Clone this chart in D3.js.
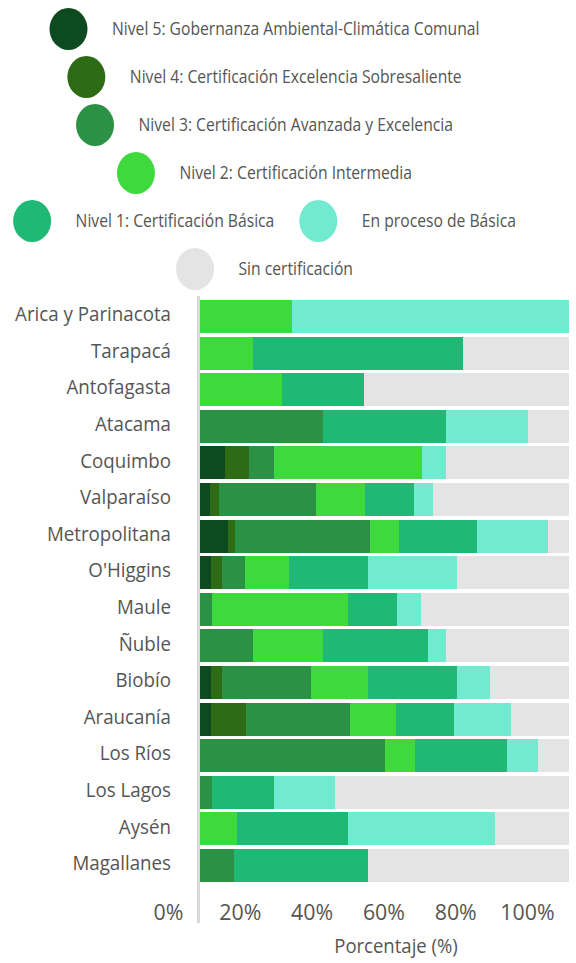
<!DOCTYPE html>
<html><head><meta charset="utf-8">
<script src="https://cdn.jsdelivr.net/npm/d3@7"></script>
<style>body{margin:0;background:#fff}svg{display:block}</style>
</head><body><svg id="c" width="576" height="963"></svg>
<script>
const regions = ["Arica y Parinacota","Tarapacá","Antofagasta","Atacama","Coquimbo","Valparaíso","Metropolitana","O'Higgins","Maule","Ñuble","Biobío","Araucanía","Los Ríos","Los Lagos","Aysén","Magallanes"];
const nivel5  = [0,0,0,0,6.7,2.6,7.7,3.0,0,0,3.0,3.1,0,0,0,0];
const nivel4  = [0,0,0,0,6.7,2.6,1.9,3.0,0,0,3.0,9.4,0,0,0,0];
const nivel3  = [0,0,0,33.3,6.7,26.3,36.5,6.1,3.3,14.3,24.2,28.1,50.0,3.3,0,9.1];
const nivel2  = [25.0,14.3,22.2,0,40.0,13.2,7.7,12.1,36.7,19.0,15.2,12.5,8.3,0,10.0,0];
const nivel1  = [0,57.1,22.2,33.3,0,13.2,21.2,21.2,13.3,28.6,24.2,15.6,25.0,16.7,30.0,36.4];
const proceso = [75.0,0,0,22.2,6.7,5.3,19.2,24.2,6.7,4.8,9.1,15.6,8.3,16.7,40.0,0];
const sinCert = [0,28.6,55.6,11.1,33.3,36.8,5.8,30.3,40.0,33.3,21.2,15.6,8.4,63.3,20.0,54.5];

const seriesKeys = ["n5","n4","n3","n2","n1","proc","sin"];
const seriesLabels = ["Nivel 5: Gobernanza Ambiental-Climática Comunal","Nivel 4: Certificación Excelencia Sobresaliente","Nivel 3: Certificación Avanzada y Excelencia","Nivel 2: Certificación Intermedia","Nivel 1: Certificación Básica","En proceso de Básica","Sin certificación"];
const seriesColors = ["#0e4a1f","#2d6b15","#2b9145","#3dd93d","#1fb874","#72ead0","#e4e4e4"];
const legendRows = [["n5"],["n4"],["n3"],["n2"],["n1","proc"],["sin"]];
const tickValues = [0,20,40,60,80,100];
const axisTitle = "Porcentaje (%)";

const textColor = "#555";
const font = "'Open Sans', 'Noto Sans', sans-serif";
function condense(sel, k){
  sel.each(function(){
    const w = this.getComputedTextLength();
    this.setAttribute("textLength", w*k);
    this.setAttribute("lengthAdjust","spacingAndGlyphs");
  });
}

const dataByKey = {n5:nivel5,n4:nivel4,n3:nivel3,n2:nivel2,n1:nivel1,proc:proceso,sin:sinCert};
const rows = regions.map((r,i)=>{
  const o = {region:r};
  seriesKeys.forEach(k=>o[k]=dataByKey[k][i]);
  return o;
});

const svg = d3.select("#c");
const x = d3.scaleLinear().domain([0,100]).range([200,569]);
const y = d3.scaleBand().domain(regions).range([298.2,883.8]).paddingInner(0.098).paddingOuter(0.049);
const color = d3.scaleOrdinal().domain(seriesKeys).range(seriesColors);
const stacked = d3.stack().keys(seriesKeys)(rows);

// axis line
svg.append("line").attr("x1",198.5).attr("x2",198.5).attr("y1",296).attr("y2",923)
  .attr("stroke","#d9d9d9").attr("stroke-width",3);

svg.append("g").attr("shape-rendering","crispEdges")
  .selectAll("g").data(stacked).join("g").attr("fill",d=>color(d.key))
  .selectAll("rect").data(d=>d).join("rect")
  .attr("x",d=>x(d[0]))
  .attr("width",d=>Math.max(0,x(d[1])-x(d[0])))
  .attr("y",d=>y(d.data.region))
  .attr("height",y.bandwidth());

// region labels
const yAxis = svg.append("g").attr("transform","translate(171,0)")
  .call(d3.axisLeft(y).tickSize(0).tickPadding(0));
yAxis.select(".domain").remove();
yAxis.selectAll("text").attr("font-family",font).attr("font-size",19.5).attr("fill",textColor)
  .attr("dy","0.24em").call(condense,0.96);

// x tick labels
const xt = d3.scaleLinear().domain([0,100]).range([168,527]);
const xAxis = svg.append("g").attr("transform","translate(0,904.5)")
  .call(d3.axisBottom(xt).tickValues(tickValues).tickFormat(d=>d+"%").tickSize(0).tickPadding(0));
xAxis.select(".domain").remove();
xAxis.selectAll("text").attr("font-family",font).attr("font-size",22).attr("fill",textColor).call(condense,0.97);

svg.append("text").attr("x",396).attr("y",953).attr("text-anchor","middle")
  .attr("font-family",font).attr("font-size",19.5).attr("fill",textColor).text(axisTitle).call(condense,0.95);

// legend
const R = 19, RY = 21, gapText = 24.5, gapItem = 25, centerX = 264.5;
const legend = svg.append("g");
legendRows.forEach((keys,ri)=>{
  const cy = 29 + 48*ri;
  const items = keys.map(k=>{
    const g = legend.append("g");
    g.append("ellipse").attr("rx",R).attr("ry",RY).attr("cy",cy).attr("fill",color(k));
    const t = g.append("text").attr("y",cy).attr("dy","0.31em")
      .attr("font-family",font).attr("font-size",19).attr("fill",textColor)
      .text(seriesLabels[seriesKeys.indexOf(k)]).call(condense,0.825);
    const tw = +t.attr("textLength");
    return {g,t,tw,w:2*R+gapText+tw};
  });
  const total = d3.sum(items,d=>d.w)+gapItem*(items.length-1);
  let cx0 = centerX - total/2;
  items.forEach(it=>{
    it.g.select("ellipse").attr("cx",cx0+R);
    it.t.attr("x",cx0+2*R+gapText);
    cx0 += it.w + gapItem;
  });
});
</script></body></html>
